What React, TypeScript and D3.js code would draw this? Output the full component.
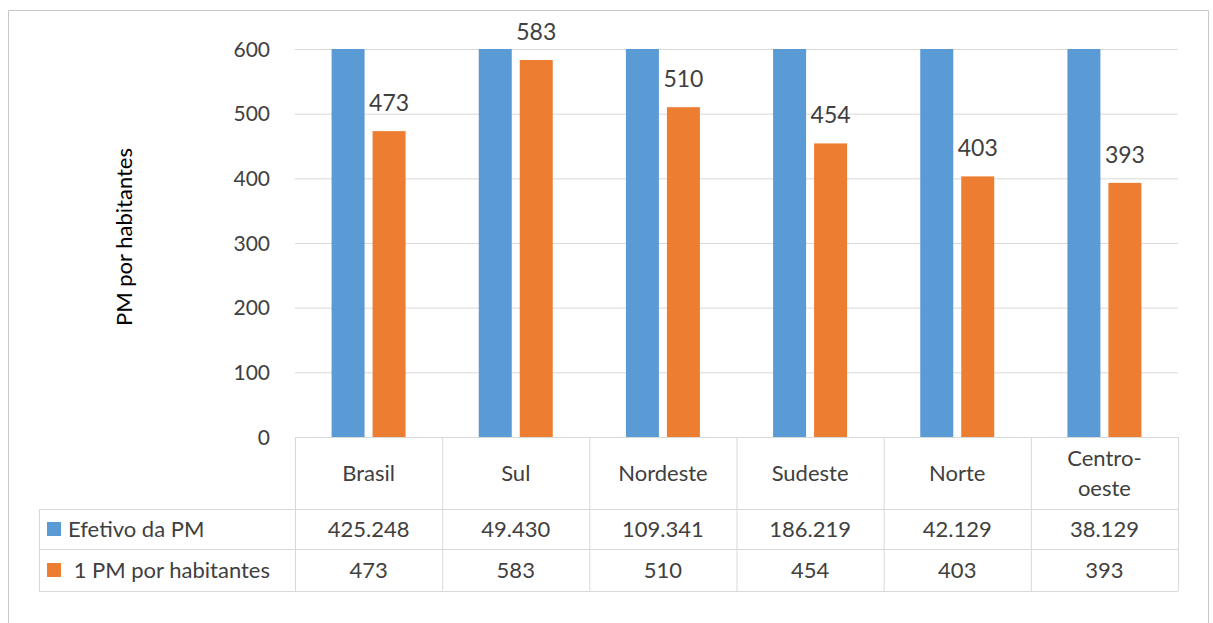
import React from 'react';
import * as d3 from 'd3';

const categories = ['Brasil', 'Sul', 'Nordeste', 'Sudeste', 'Norte', 'Centro-oeste'];
const categoryLines = [['Brasil'], ['Sul'], ['Nordeste'], ['Sudeste'], ['Norte'], ['Centro-', 'oeste']];
const efetivo = [425248, 49430, 109341, 186219, 42129, 38129];
const efetivoLabels = ['425.248', '49.430', '109.341', '186.219', '42.129', '38.129'];
const habitantes = [473, 583, 510, 454, 403, 393];
const yTicks = [0, 100, 200, 300, 400, 500, 600];
const seriesNames = ['Efetivo da PM', ' 1 PM por habitantes'];

const BLUE = '#5b9bd5';
const ORANGE = '#ed7d31';
const GRID = '#d9d9d9';
const TEXT = '#404040';
const FONT = 'Lato, "Open Sans", sans-serif';

export default function App() {
  const width = 1213;
  const height = 623;
  const plot = { left: 295, right: 1178, top: 49, bottom: 437 };
  const tableLeft = 39;
  const rowY = [437, 509, 549, 591];

  const x = d3.scaleBand<string>().domain(categories).range([plot.left, plot.right]);
  const inner = d3.scaleBand<number>().domain([0, 1]).range([-37, 37]).paddingInner(0.195);
  const y = d3.scaleLinear().domain([0, 600]).range([plot.bottom, plot.top]).clamp(true);

  const cx = (c: string) => (x(c) ?? 0) + x.bandwidth() / 2;

  return (
    <svg width={width} height={height} style={{ position: 'absolute', left: 0, top: 0 }} fontFamily={FONT}>
      <rect x={0} y={0} width={width} height={height} fill="#fff" />
      {/* outer frame */}
      <path d={`M8.5,${height} V10.5 H1208.5 V${height}`} fill="none" stroke="#c8c8c8" />

      {/* gridlines + y ticks */}
      {yTicks.map((t) => (
        <g key={t}>
          <line x1={plot.left} x2={plot.right} y1={y(t) + 0.5} y2={y(t) + 0.5} stroke={GRID} />
          <text x={270} y={y(t)} dy="0.36em" textAnchor="end" fontSize={21} fill={TEXT}>
            {t}
          </text>
        </g>
      ))}

      <text
        transform={`translate(132,237) rotate(-90)`}
        textAnchor="middle"
        fontSize={22}
        fill="#000"
      >
        PM por habitantes
      </text>

      {/* bars */}
      {categories.map((c, i) => {
        const c0 = cx(c);
        const bx = c0 + (inner(0) ?? 0);
        const ox = c0 + (inner(1) ?? 0);
        const bw = inner.bandwidth();
        return (
          <g key={c}>
            <rect x={bx} y={y(efetivo[i])} width={bw} height={plot.bottom - y(efetivo[i])} fill={BLUE} />
            <rect x={ox} y={y(habitantes[i])} width={bw} height={plot.bottom - y(habitantes[i])} fill={ORANGE} />
            <text x={ox + bw / 2} y={y(habitantes[i]) - 20} textAnchor="middle" fontSize={23} fill={TEXT}>
              {habitantes[i]}
            </text>
          </g>
        );
      })}

      {/* data table */}
      <g stroke={GRID} fill="none">
        <line x1={plot.left} x2={plot.right} y1={rowY[0] + 0.5} y2={rowY[0] + 0.5} />
        {rowY.slice(1).map((ry) => (
          <line key={ry} x1={tableLeft} x2={plot.right} y1={ry + 0.5} y2={ry + 0.5} />
        ))}
        <line x1={tableLeft + 0.5} x2={tableLeft + 0.5} y1={rowY[1]} y2={rowY[3]} />
        {categories.map((c) => (
          <line key={c} x1={(x(c) ?? 0) + 0.5} x2={(x(c) ?? 0) + 0.5} y1={rowY[0]} y2={rowY[3]} />
        ))}
        <line x1={plot.right + 0.5} x2={plot.right + 0.5} y1={rowY[0]} y2={rowY[3]} />
      </g>

      {categories.map((c, i) => {
        const lines = categoryLines[i];
        const mid = (rowY[0] + rowY[1]) / 2;
        return (
          <g key={c} fontSize={22} fill={TEXT} textAnchor="middle">
            {lines.map((l, j) => (
              <text key={l} x={cx(c)} y={mid + (j - (lines.length - 1) / 2) * 30} dy="0.36em">
                {l}
              </text>
            ))}
            <text x={cx(c)} y={(rowY[1] + rowY[2]) / 2} dy="0.36em">
              {efetivoLabels[i]}
            </text>
            <text x={cx(c)} y={(rowY[2] + rowY[3]) / 2} dy="0.36em">
              {habitantes[i]}
            </text>
          </g>
        );
      })}

      {/* legend keys in table */}
      {seriesNames.map((s, i) => {
        const mid = (rowY[i + 1] + rowY[i + 2]) / 2;
        return (
          <g key={s}>
            <rect x={47} y={mid - 7} width={14} height={14} fill={i === 0 ? BLUE : ORANGE} />
            <text x={68} y={mid} dy="0.36em" fontSize={22} fill={TEXT} style={{ whiteSpace: 'pre' }}>
              {s}
            </text>
          </g>
        );
      })}
    </svg>
  );
}
